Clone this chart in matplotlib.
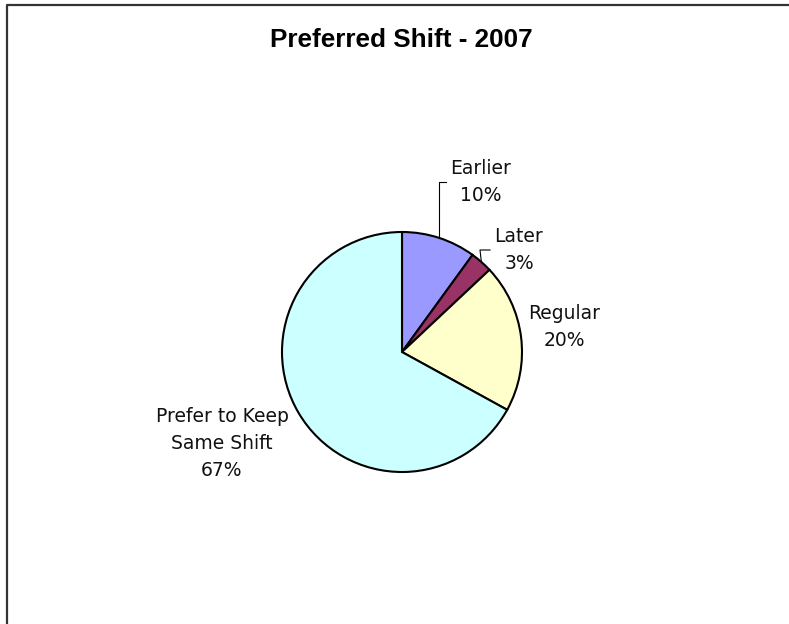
import matplotlib.pyplot as plt
import numpy as np

W, H = 789, 624

title = "Preferred Shift - 2007"
categories = ["Earlier", "Later", "Regular", "Prefer to Keep\nSame Shift"]
shares = [10, 3, 20, 67]
colors = ["#9999FF", "#993366", "#FFFFCC", "#CCFFFF"]

# label placement in pixels from the top-left corner: (centre x, top y)
label_pos = [(481, 159), (519, 227), (564, 304), (222, 407)]
# leader lines: (elbow x or None for straight up, elbow y, end x)
leaders = {0: (None, 182, 446), 1: (480, 250, 490)}

CX, CY, R = 402, 352, 120


def py(y):
    # pixel row -> data y (axes span the whole figure)
    return H - y


fig = plt.figure(figsize=(W / 100, H / 100), dpi=100)
ax = fig.add_axes([0, 0, 1, 1])

wedges, _ = ax.pie(shares, colors=colors, startangle=90, counterclock=False,
                   center=(CX, py(CY)), radius=R,
                   wedgeprops=dict(edgecolor="black", linewidth=1.5))
ax.set_xlim(0, W)
ax.set_ylim(0, H)
ax.set_aspect("equal")
ax.axis("off")

for i, (w, name, v) in enumerate(zip(wedges, categories, shares)):
    x, y = label_pos[i]
    ax.text(x, py(y), f"{name}\n{v}%", ha="center", va="top",
            fontsize=13.5, family="DejaVu Sans", color="#111111",
            linespacing=1.55)
    if i in leaders:
        mid = np.deg2rad((w.theta1 + w.theta2) / 2)
        ax_x = CX + R * np.cos(mid)
        ax_y = py(CY) + R * np.sin(mid)
        ex, ey, endx = leaders[i]
        if ex is None:
            ex = ax_x
        ax.plot([ax_x, ex, endx], [ax_y, py(ey), py(ey)], color="black", lw=0.8)

ax.text(401, py(28), title, ha="center", va="top", fontsize=18.8,
        fontweight="bold", family="Liberation Sans", color="black")

# chart frame (only the top and left edges fall inside the image)
ax.plot([7.5, 7.5, W + 5], [py(H + 5), py(4.5), py(4.5)], color="#333333",
        lw=1.6, clip_on=False)

fig.savefig("out.png", dpi=100)
